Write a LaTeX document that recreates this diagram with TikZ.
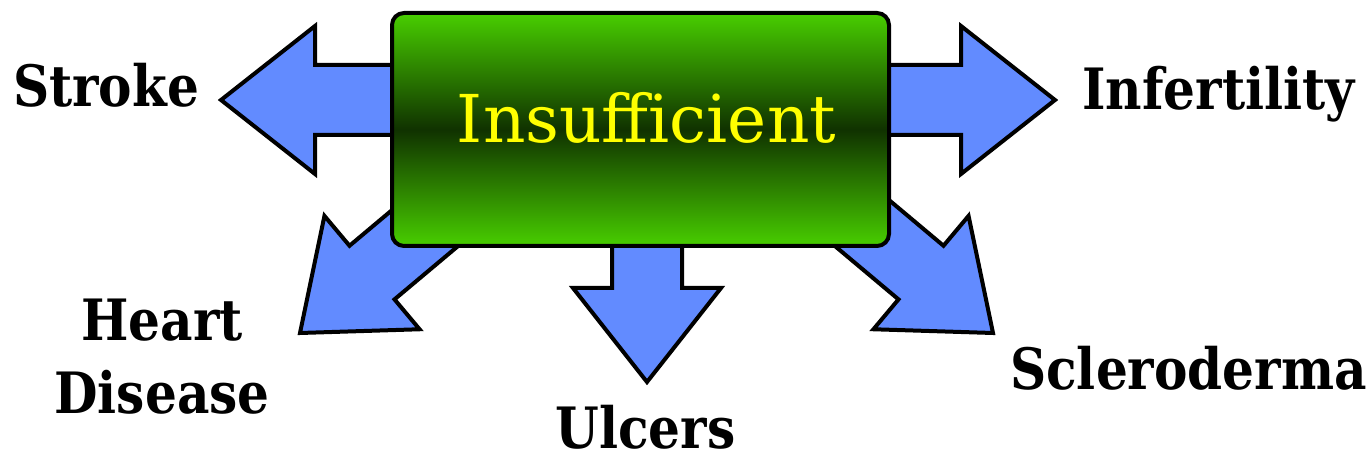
\documentclass[tikz,border=0pt]{standalone}
\usepackage{fontspec}
\setmainfont{DejaVu Serif}

\definecolor{arrowblue}{RGB}{98,139,255}
\definecolor{lightgreen}{RGB}{72,206,0}
\definecolor{darkgreen}{RGB}{16,50,0}
\definecolor{textyellow}{RGB}{255,255,0}

\begin{document}
\begin{tikzpicture}[x=1pt, y=1pt]

  \tikzstyle{hub}=[rounded corners=12pt, draw, line width=4pt, top color=lightgreen, bottom color=lightgreen, middle color=darkgreen, minimum width=497pt, minimum height=233pt, inner sep=0pt]
  \tikzstyle{hubtext}=[font=\fontsize{66}{70}\selectfont, text=textyellow, anchor=base, inner sep=0pt]
  \tikzstyle{disease}=[font=\bfseries\fontsize{57}{73}\selectfont, xscale=.88, anchor=base, inner sep=0pt, text depth=0pt]
  \tikzset{fatarrow/.pic={
    \draw [line width=4pt, fill=arrowblue] (0,0) -- (-94,74) -- (-94,35) -- (-234,35) -- (-234,-35) -- (-94,-35) -- (-94,-74) -- cycle;
  }}

  \useasboundingbox (0,0) rectangle (1370,457);

  % arrows go under the box
  \pic [rotate=180] (a-stroke) at (221,357) {fatarrow};
  \pic (a-infert) at (1055,357) {fatarrow};
  \pic [rotate=220] (a-heart) at (300,124) {fatarrow};
  \pic [rotate=270] (a-ulcers) at (647,75) {fatarrow};
  \pic [rotate=320] (a-sclero) at (993,124) {fatarrow};

  \node [hub] (box) at (640.5,327.5) {};
  \node [hubtext] (insuf) at (646.5,314) {Insufficient};

  \node [disease] (stroke) at (106,350) {Stroke};
  \node [disease] (infert) at (1218.5,347) {Infertility};
  \node [disease, align=center, anchor=center] (heart) at (162,101) {Heart\\Disease};
  \node [disease] (ulcers) at (645.5,8) {Ulcers};
  \node [disease] (sclero) at (1188.5,67) {Scleroderma};
\end{tikzpicture}
\end{document}
